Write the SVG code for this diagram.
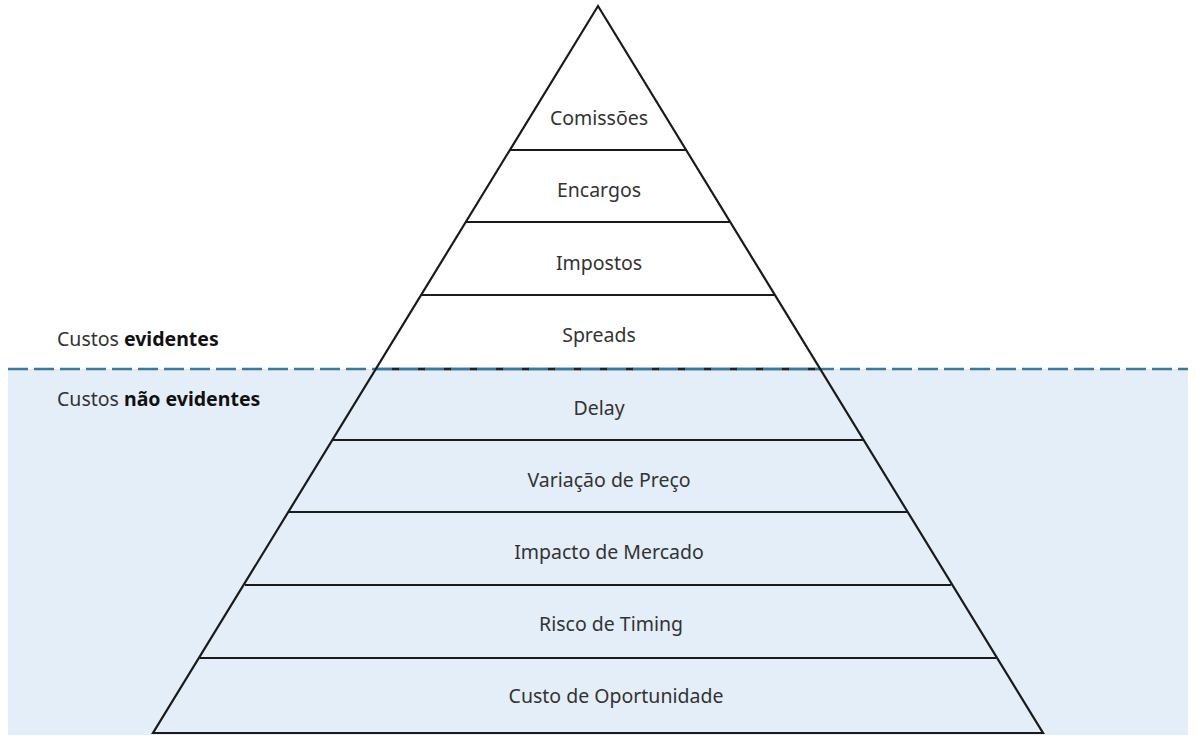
<svg xmlns="http://www.w3.org/2000/svg" width="1200" height="743" viewBox="0 0 1200 743">
<style>
.t{font-family:"Noto Sans","Liberation Sans",sans-serif;font-size:19.5px;fill:#333333;text-anchor:middle}
.l{font-family:"Noto Sans","Liberation Sans",sans-serif;font-size:19.5px;fill:#333333}
.b{font-weight:bold;fill:#111}
.ln{stroke:#1a1a1a;stroke-width:2.2;fill:none}
</style>
<rect x="0" y="0" width="1200" height="743" fill="#ffffff"/>
<rect id="hidden-zone" x="8" y="369" width="1180" height="366" fill="#e4eef8"/>
<g id="connectors">
<line x1="8" y1="369" x2="1188" y2="369" stroke="#3b7a9c" stroke-width="2.5" stroke-dasharray="20 6"/>
<line x1="376" y1="369" x2="820" y2="369" stroke="#3b7a9c" stroke-width="2.5"/>
<line x1="392" y1="369" x2="820" y2="369" stroke="#222" stroke-width="2.5" stroke-dasharray="7 19"/>
</g>
<g id="pyramid">
<polygon class="ln" points="598,6 1043,733 153,733"/>
<line class="ln" x1="510" y1="150" x2="686" y2="150"/>
<line class="ln" x1="466" y1="222" x2="730" y2="222"/>
<line class="ln" x1="421" y1="295" x2="775" y2="295"/>
<line class="ln" x1="333" y1="440" x2="863" y2="440"/>
<line class="ln" x1="289" y1="512" x2="907" y2="512"/>
<line class="ln" x1="245" y1="585" x2="951" y2="585"/>
<line class="ln" x1="200" y1="658" x2="996" y2="658"/>
</g>
<g id="n1"><text class="t" x="599" y="125">Comissões</text></g>
<g id="n2"><text class="t" x="599" y="197">Encargos</text></g>
<g id="n3"><text class="t" x="599" y="270">Impostos</text></g>
<g id="n4"><text class="t" x="599" y="342">Spreads</text></g>
<g id="n5"><text class="t" x="599" y="415">Delay</text></g>
<g id="n6"><text class="t" x="609" y="487">Variação de Preço</text></g>
<g id="n7"><text class="t" x="609" y="559">Impacto de Mercado</text></g>
<g id="n8"><text class="t" x="611" y="631">Risco de Timing</text></g>
<g id="n9"><text class="t" x="616" y="703">Custo de Oportunidade</text></g>
<g id="label-evidentes"><text class="l" x="57" y="346">Custos <tspan class="b">evidentes</tspan></text></g>
<g id="label-nao-evidentes"><text class="l" x="57" y="406">Custos <tspan class="b">não evidentes</tspan></text></g>
</svg>
